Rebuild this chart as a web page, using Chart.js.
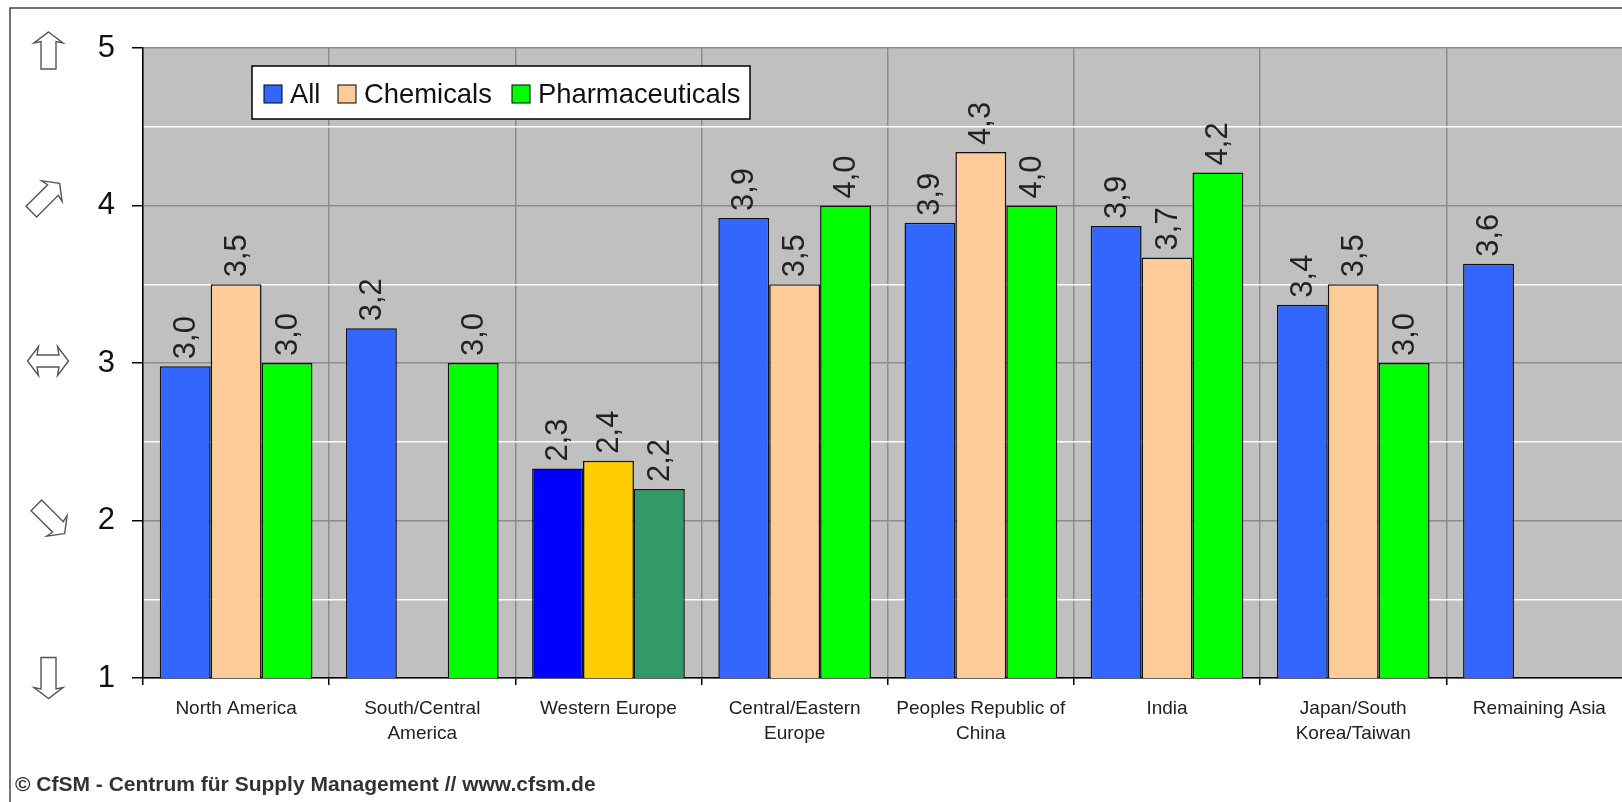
<!DOCTYPE html>
<html>
<head>
<meta charset="utf-8">
<title>CfSM</title>
<script src="https://cdn.jsdelivr.net/npm/chart.js@4"></script>
<style>
html,body{margin:0;padding:0;background:#fff;overflow:hidden;width:1622px;height:802px}
canvas{display:block}
</style>
</head>
<body>
<canvas id="grafico" width="1700" height="802"></canvas>
<script>
const categorias=[["North America"],["South/Central","America"],["Western Europe"],["Central/Eastern","Europe"],["Peoples Republic of","China"],["India"],["Japan/South","Korea/Taiwan"],["Remaining Asia"]];
const valoresAll=[2.98,3.22,2.33,3.92,3.89,3.87,3.37,3.63];
const valoresChemicals=[3.5,null,2.38,3.5,4.34,3.67,3.5,null];
const valoresPharma=[3,3,2.2,4,4,4.21,3,null];
const coloresAll=["#3366ff","#3366ff","#0000ff","#3366ff","#3366ff","#3366ff","#3366ff","#3366ff"];
const coloresChemicals=["#ffcc99","#ffcc99","#ffcc00","#ffcc99","#ffcc99","#ffcc99","#ffcc99","#ffcc99"];
const coloresPharma=["#00ff00","#00ff00","#339966","#00ff00","#00ff00","#00ff00","#00ff00","#00ff00"];
const pie="© CfSM - Centrum für Supply Management // www.cfsm.de";

function flecha(ctx,cx,cy,ang,largo,doble){
ctx.save();
ctx.translate(cx,cy);
ctx.rotate(ang);
ctx.strokeStyle="#555";
ctx.fillStyle="#fff";
ctx.lineWidth=1.4;
let m=largo/2;
ctx.beginPath();
ctx.moveTo(0,-m);
ctx.lineTo(14.5,-m+11);
ctx.lineTo(doble?6:7.5,-m+9.5);
if(doble){
ctx.lineTo(6,m-9.5);
ctx.lineTo(14.5,m-11);
ctx.lineTo(0,m);
ctx.lineTo(-14.5,m-11);
ctx.lineTo(-6,m-9.5);
}else{
ctx.lineTo(7.5,m);
ctx.lineTo(-7.5,m);
}
ctx.lineTo(doble?-6:-7.5,-m+9.5);
ctx.lineTo(-14.5,-m+11);
ctx.closePath();
ctx.fill();
ctx.stroke();
ctx.restore();
}

const extras={
id:"extras",
beforeDraw(chart){
let c=chart.ctx,a=chart.chartArea;
c.save();
c.fillStyle="#c0c0c0";
c.fillRect(a.left,a.top,a.right-a.left,a.bottom-a.top);
c.restore();
},
afterDatasetsDraw(chart){
let c=chart.ctx;
c.save();
c.fillStyle="#222";
c.font="31px 'Liberation Sans'";
c.textAlign="left";
c.textBaseline="middle";
chart.data.datasets.forEach((d,i)=>{
chart.getDatasetMeta(i).data.forEach((barra,j)=>{
if(d.data[j]===null)return;
c.save();
c.translate(barra.x,barra.y-7);
c.rotate(-Math.PI/2);
c.fillText(d.data[j].toFixed(1).replace(".",","),0,1);
c.restore();
});
});
c.restore();
},
afterDraw(chart){
let c=chart.ctx,y=chart.scales.y;
c.save();
// marco
c.strokeStyle="#444";
c.lineWidth=1.5;
c.beginPath();
c.moveTo(10,802);
c.lineTo(10,8);
c.lineTo(1700,8);
c.stroke();
// flechas
flecha(c,48.5,50.5,0,37,false);
flecha(c,45.5,y.getPixelForValue(4)-8,Math.PI/4,40,false);
flecha(c,48,y.getPixelForValue(3)-2,Math.PI/2,41,true);
flecha(c,50.5,y.getPixelForValue(2)-1,Math.PI*3/4,40,false);
flecha(c,48.5,y.getPixelForValue(1),Math.PI,41,false);
// leyenda
c.fillStyle="#fff";
c.strokeStyle="#000";
c.lineWidth=1.5;
c.fillRect(252,66,498,53);
c.strokeRect(252,66,498,53);
let xs=[264,338,512];
c.font="27.4px 'Liberation Sans'";
c.textAlign="left";
c.textBaseline="middle";
chart.data.datasets.forEach((d,i)=>{
c.fillStyle=d.backgroundColor[0];
c.fillRect(xs[i],85,18,18);
c.lineWidth=1;
c.strokeRect(xs[i],85,18,18);
c.fillStyle="#111";
c.fillText(d.label,xs[i]+26,95);
});
// pie
c.fillStyle="#333";
c.font="bold 21px 'Liberation Sans'";
c.fillText(pie,15,785);
c.restore();
}
};

new Chart(document.getElementById("grafico"),{
type:"bar",
data:{
labels:categorias,
datasets:[
{label:"All",data:valoresAll,backgroundColor:coloresAll},
{label:"Chemicals",data:valoresChemicals,backgroundColor:coloresChemicals},
{label:"Pharmaceuticals",data:valoresPharma,backgroundColor:coloresPharma}
]
},
options:{
responsive:false,
animation:false,
devicePixelRatio:1,
layout:{padding:{top:48,right:67.5,bottom:0,left:0}},
datasets:{bar:{categoryPercentage:0.82,barPercentage:1,borderColor:"#111",borderWidth:1.5}},
plugins:{legend:{display:false},title:{display:false},tooltip:{enabled:false}},
scales:{
x:{
afterFit(s){s.height=124;},
grid:{color:"#8c8c8c",lineWidth:1.5,tickColor:"#000",tickLength:7},
border:{color:"#000",width:1.5},
ticks:{color:"#222",font:{family:"'Liberation Sans'",size:19,lineHeight:1.32},maxRotation:0,autoSkip:false,padding:11}
},
y:{
min:1,
max:5,
afterFit(s){s.width=143;},
grid:{
color:c=>Number.isInteger(c.tick.value)?"#8c8c8c":"#ffffff",
tickColor:c=>Number.isInteger(c.tick.value)?"#000":"rgba(0,0,0,0)",
lineWidth:1.5,
tickLength:11
},
border:{color:"#000",width:1.5},
ticks:{
stepSize:0.5,
autoSkip:false,
color:"#111",
padding:17,
font:{family:"'Liberation Sans'",size:31},
callback:v=>Number.isInteger(v)?v:""
}
}
}
},
plugins:[extras]
});
</script>
</body>
</html>
